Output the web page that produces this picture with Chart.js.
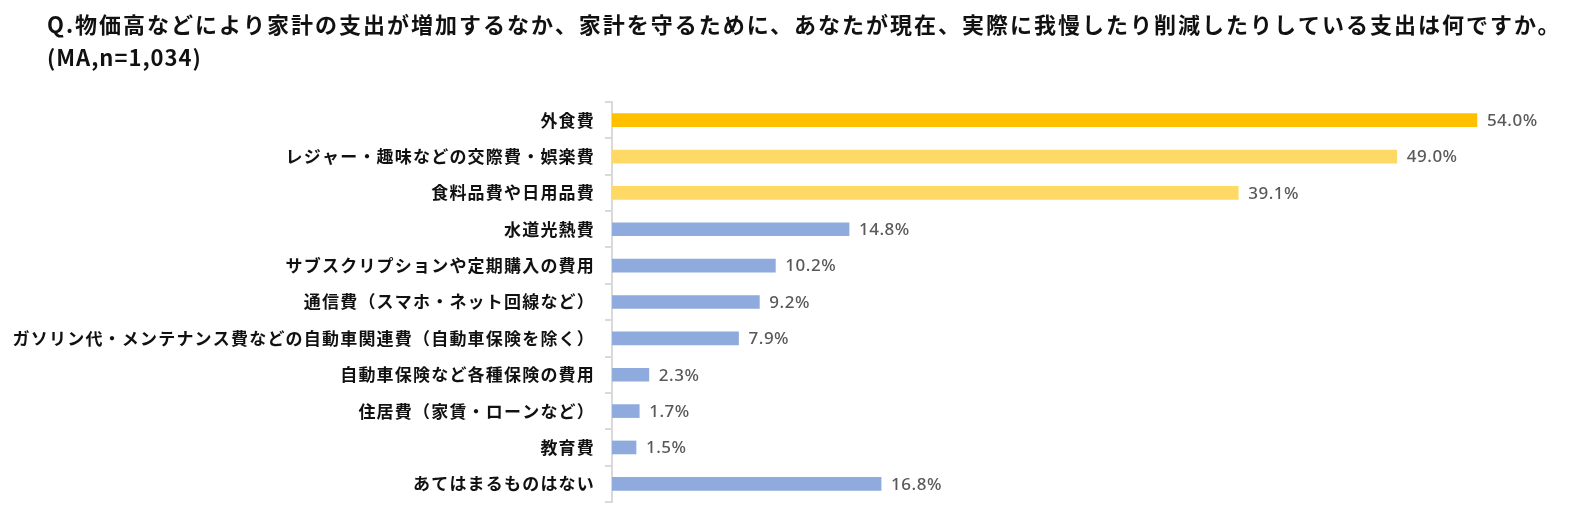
<!DOCTYPE html>
<html lang="ja">
<head>
<meta charset="utf-8">
<script src="https://cdn.jsdelivr.net/npm/chart.js@4.4.1/dist/chart.umd.min.js"></script>
<style>
  html, body { margin: 0; padding: 0; background: #fff; }
  #wrap { width: 1573px; height: 514px; }
</style>
</head>
<body>
<div id="wrap"><canvas id="chart"></canvas></div>
<script>
// 設問
const titleLines = [
  "Q.物価高などにより家計の支出が増加するなか、家計を守るために、あなたが現在、実際に我慢したり削減したりしている支出は何ですか。",
  "(MA,n=1,034)"
];

// 項目
const categories = [
  "外食費",
  "レジャー・趣味などの交際費・娯楽費",
  "食料品費や日用品費",
  "水道光熱費",
  "サブスクリプションや定期購入の費用",
  "通信費（スマホ・ネット回線など）",
  "ガソリン代・メンテナンス費などの自動車関連費（自動車保険を除く）",
  "自動車保険など各種保険の費用",
  "住居費（家賃・ローンなど）",
  "教育費",
  "あてはまるものはない"
];

// 回答率（%）
const values = [54.0, 49.0, 39.1, 14.8, 10.2, 9.2, 7.9, 2.3, 1.7, 1.5, 16.8];

// 色
const barColors = [
  "#FFC000", "#FFD966", "#FFD966",
  "#8FAADC", "#8FAADC", "#8FAADC", "#8FAADC",
  "#8FAADC", "#8FAADC", "#8FAADC", "#8FAADC"
];

const JP = "'Noto Sans CJK JP', 'Noto Sans', sans-serif";

// 項目ラベルの字間を少し広げる
const spacing = {
  id: "spacing",
  beforeDraw(chart) { chart.ctx.letterSpacing = "1.2px"; },
  afterDraw(chart) { chart.ctx.letterSpacing = "0px"; }
};

// タイトルを描く
const titlePlugin = {
  id: "titleText",
  afterDraw(chart) {
    const ctx = chart.ctx;
    ctx.save();
    ctx.font = "bold 22px " + JP;
    ctx.fillStyle = "#111";
    ctx.textBaseline = "middle";
    ctx.textAlign = "left";
    ctx.letterSpacing = "2px";
    ctx.fillText(titleLines[0], 47, 25);
    ctx.letterSpacing = "1px";
    ctx.fillText(titleLines[1], 47, 58);
    ctx.restore();
  }
};

// 棒の右にラベル
const valueLabels = {
  id: "valueLabels",
  afterDatasetsDraw(chart) {
    const ctx = chart.ctx;
    const meta = chart.getDatasetMeta(0);
    ctx.save();
    ctx.letterSpacing = "0.5px";
    ctx.font = "500 17px 'Noto Sans', sans-serif";
    ctx.fillStyle = "#595959";
    ctx.textBaseline = "middle";
    ctx.textAlign = "left";
    meta.data.forEach((bar, i) => {
      ctx.fillText(values[i].toFixed(1) + "%", bar.x + 10, bar.y + 1);
    });
    ctx.restore();
  }
};

new Chart(document.getElementById("chart"), {
  type: "bar",
  data: {
    labels: categories,
    datasets: [{
      data: values,
      backgroundColor: barColors,
      barThickness: 13
    }]
  },
  options: {
    indexAxis: "y",
    responsive: true,
    maintainAspectRatio: false,
    animation: false,
    layout: { padding: { top: 102, bottom: 12, left: 0, right: 0 } },
    plugins: {
      legend: { display: false },
      tooltip: { enabled: false }
    },
    scales: {
      x: {
        min: 0,
        max: 60,
        display: false
      },
      y: {
        afterFit(scale) {
          scale.width = 612;
          scale.paddingTop = 0;
          scale.paddingBottom = 0;
        },
        border: { display: true, color: "#D9D9D9", width: 2 },
        grid: {
          display: true,
          drawOnChartArea: false,
          drawTicks: true,
          tickLength: 7,
          color: "#D9D9D9",
          lineWidth: 2
        },
        ticks: {
          color: "#111",
          padding: 10,
          font: { family: JP, size: 17, weight: "bold" }
        }
      }
    }
  },
  plugins: [spacing, titlePlugin, valueLabels]
});
</script>
</body>
</html>
